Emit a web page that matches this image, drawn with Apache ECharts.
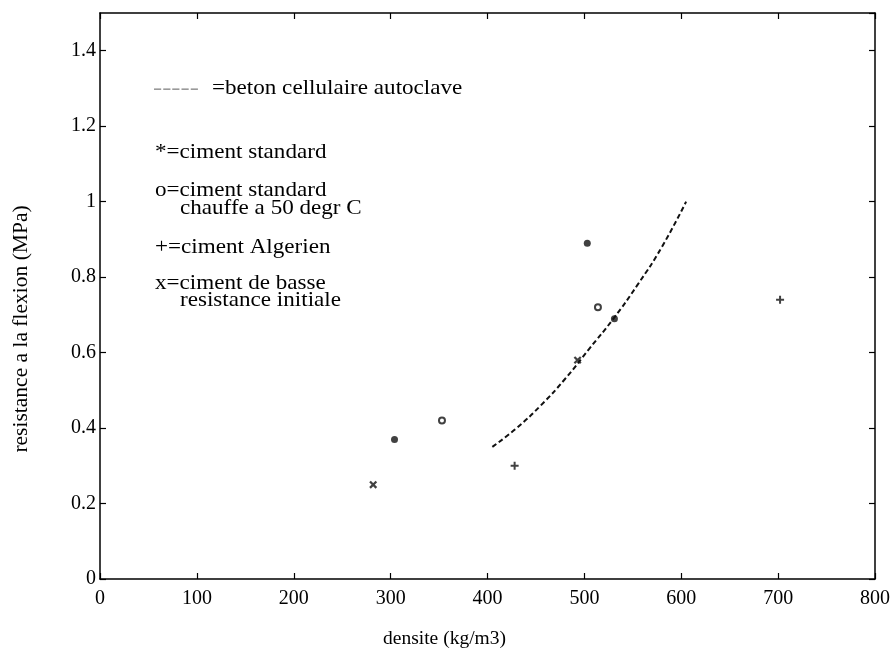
<!DOCTYPE html>
<html><head><meta charset="utf-8">
<script src="https://cdn.jsdelivr.net/npm/echarts@6/dist/echarts.min.js"></script>
<style>html,body{margin:0;padding:0;background:#fff}#c{width:893px;height:656px}</style>
</head><body><div id="c"></div>
<script>
const xTicks = [0,100,200,300,400,500,600,700,800];
const yTicks = [0,0.2,0.4,0.6,0.8,1,1.2,1.4];
const betonCurve = [[405,0.35],[430,0.40],[455,0.46],[480,0.53],[505,0.61],[530,0.69],[555,0.78],[580,0.88],[605,1.0]];
const cimentStandard = [[304,0.37],[503,0.89],[531,0.69]];
const cimentChauffe = [[353,0.42],[514,0.72]];
const cimentAlgerien = [[428,0.30],[702,0.74]];
const cimentBasse = [[282,0.25],[493,0.58]];

const font = 'Liberation Serif';
const plusPath = 'path://M3,0h2v8h-2zM0,3h8v2h-8z';
const chart = echarts.init(document.getElementById('c'));
function axisStyle(){
  return {
    axisLine:{show:true,onZero:false,lineStyle:{color:'#000',width:1.5}},
    axisTick:{show:true,inside:true,length:6,lineStyle:{color:'#000',width:1.2}},
    splitLine:{show:false}
  };
}
const lbl = {color:'#000',fontFamily:font,fontSize:20};
const T = (text,x,y,fill)=>({type:'text',x:x,y:y,scaleX:1.05,silent:true,
  style:{text:text,fill:fill||'#000',font:'22px "Liberation Serif"',verticalAlign:'middle'}});
chart.setOption({
  animation:false,
  backgroundColor:'#fff',
  grid:{left:100,right:14,top:13,bottom:77,containLabel:false},
  xAxis:[
    Object.assign({type:'value',min:0,max:800,interval:100,position:'bottom',
      name:'densite (kg/m3)',nameLocation:'middle',nameGap:50,
      nameTextStyle:{color:'#000',fontFamily:font,fontSize:19.5,padding:[0,86,0,0]},
      axisLabel:Object.assign({margin:10,formatter:v=>String(v)},lbl)},axisStyle()),
    Object.assign({type:'value',min:0,max:800,interval:100,position:'top',axisLabel:{show:false}},axisStyle())
  ],
  yAxis:[
    Object.assign({type:'value',min:0,max:1.5,interval:0.2,position:'left',
      name:'resistance a la flexion (MPa)',nameLocation:'middle',nameGap:68,
      nameTextStyle:{color:'#000',fontFamily:font,fontSize:21.5,padding:[0,66,0,0]},
      axisLabel:Object.assign({margin:4,showMaxLabel:false,formatter:v=>String(Math.round(v*10)/10)},lbl)},axisStyle()),
    Object.assign({type:'value',min:0,max:1.5,interval:0.2,position:'right',axisLabel:{show:false}},axisStyle())
  ],
  series:[
    {name:'beton cellulaire autoclave',type:'line',data:betonCurve,smooth:0.5,symbol:'none',
      lineStyle:{color:'#111',width:2,type:[5,3]}},
    {name:'ciment standard',type:'scatter',data:cimentStandard,symbol:'circle',symbolSize:7,
      itemStyle:{color:'#111'}},
    {name:'ciment standard chauffe a 50 degr C',type:'scatter',data:cimentChauffe,symbol:'emptyCircle',symbolSize:6,
      itemStyle:{color:'#111',borderColor:'#111',borderWidth:1.8}},
    {name:'ciment Algerien',type:'scatter',data:cimentAlgerien,symbol:plusPath,symbolSize:8,
      itemStyle:{color:'#111'}},
    {name:'ciment de basse resistance initiale',type:'scatter',data:cimentBasse,symbol:plusPath,symbolSize:9,symbolRotate:45,
      itemStyle:{color:'#111'}},
    {name:'frame',type:'scatter',xAxisIndex:1,yAxisIndex:1,data:[],silent:true}
  ],
  graphic:[
    Object.assign(T('-----',153,88,'#999'),{scaleX:1.25}),
    T('=beton cellulaire autoclave',212,88),
    T('*=ciment standard',155,152),
    T('o=ciment standard',155,190),
    T('chauffe a 50 degr C',180,208),
    T('+=ciment Algerien',155,247),
    T('x=ciment de basse',155,283),
    T('resistance initiale',180,300)
  ]
});
</script></body></html>
